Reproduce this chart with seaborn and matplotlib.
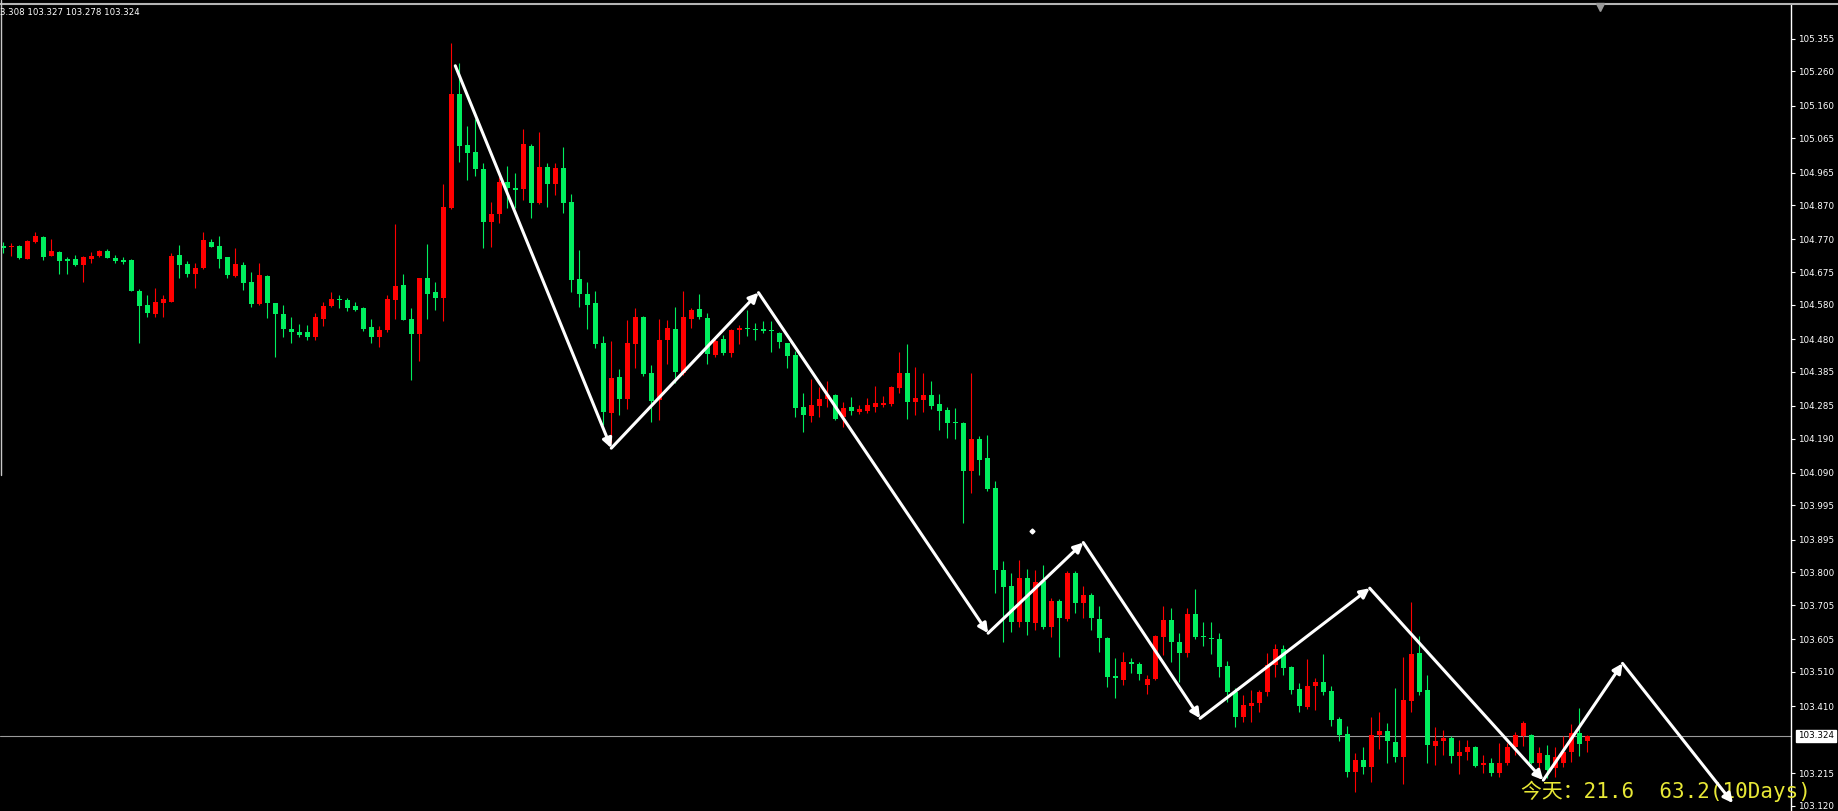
import numpy as np
import pandas as pd
import seaborn as sns
import matplotlib
matplotlib.use('Agg')
import matplotlib.pyplot as plt
import matplotlib.transforms as mtransforms
from matplotlib.lines import Line2D

# OHLC values (one candle per bar)
opens = [
    104.751, 104.748, 104.751, 104.713, 104.762, 104.778, 104.723, 104.732, 104.714, 104.714,
    104.696, 104.713, 104.722, 104.737, 104.717, 104.710, 104.710, 104.621, 104.579, 104.553,
    104.586, 104.589, 104.725, 104.699, 104.670, 104.686, 104.764, 104.751, 104.718, 104.664,
    104.696, 104.645, 104.582, 104.664, 104.584, 104.553, 104.509, 104.500, 104.499, 104.485,
    104.538, 104.576, 104.597, 104.594, 104.576, 104.571, 104.514, 104.485, 104.506, 104.594,
    104.638, 104.538, 104.495, 104.657, 104.618, 104.599, 104.863, 105.194, 105.045, 105.024,
    104.975, 104.822, 104.844, 104.937, 104.919, 104.916, 105.043, 104.876, 104.982, 104.932,
    104.979, 104.880, 104.654, 104.611, 104.584, 104.468, 104.265, 104.369, 104.304, 104.466,
    104.545, 104.380, 104.302, 104.477, 104.509, 104.382, 104.538, 104.567, 104.542, 104.433,
    104.479, 104.438, 104.506, 104.511, 104.509, 104.508, 104.506, 104.497, 104.468, 104.434,
    104.281, 104.256, 104.285, 104.304, 104.317, 104.254, 104.281, 104.268, 104.271, 104.281,
    104.288, 104.291, 104.337, 104.382, 104.297, 104.302, 104.317, 104.291, 104.273, 104.237,
    104.236, 104.096, 104.189, 104.133, 104.045, 103.807, 103.760, 103.656, 103.783, 103.654,
    103.776, 103.642, 103.718, 103.663, 103.797, 103.710, 103.734, 103.663, 103.608, 103.498,
    103.486, 103.540, 103.533, 103.472, 103.489, 103.611, 103.661, 103.598, 103.566, 103.679,
    103.615, 103.608, 103.605, 103.527, 103.452, 103.380, 103.411, 103.420, 103.452, 103.530,
    103.576, 103.524, 103.459, 103.409, 103.469, 103.481, 103.455, 103.372, 103.329, 103.219,
    103.255, 103.234, 103.326, 103.338, 103.307, 103.263, 103.426, 103.566, 103.457, 103.294,
    103.310, 103.317, 103.265, 103.278, 103.292, 103.239, 103.244, 103.216, 103.244, 103.292,
    103.323, 103.326, 103.244, 103.268, 103.229, 103.246, 103.278, 103.331, 103.308,
]
highs = [
    104.763, 104.761, 104.754, 104.769, 104.793, 104.780, 104.772, 104.737, 104.720, 104.725,
    104.722, 104.733, 104.740, 104.742, 104.725, 104.718, 104.712, 104.625, 104.608, 104.630,
    104.608, 104.730, 104.754, 104.708, 104.702, 104.793, 104.771, 104.780, 104.720, 104.744,
    104.705, 104.676, 104.701, 104.666, 104.586, 104.579, 104.545, 104.524, 104.521, 104.557,
    104.589, 104.616, 104.608, 104.599, 104.589, 104.574, 104.538, 104.518, 104.608, 104.815,
    104.670, 104.570, 104.659, 104.757, 104.647, 104.932, 105.342, 105.285, 105.101, 105.120,
    104.992, 104.880, 104.953, 104.984, 104.963, 105.091, 105.048, 105.084, 104.994, 104.992,
    105.039, 104.903, 104.740, 104.647, 104.621, 104.489, 104.474, 104.392, 104.536, 104.570,
    104.547, 104.404, 104.538, 104.536, 104.574, 104.621, 104.570, 104.611, 104.555, 104.479,
    104.492, 104.508, 104.521, 104.565, 104.528, 104.531, 104.531, 104.501, 104.469, 104.446,
    104.322, 104.363, 104.341, 104.359, 104.320, 104.297, 104.310, 104.288, 104.307, 104.343,
    104.314, 104.343, 104.443, 104.466, 104.398, 104.380, 104.359, 104.320, 104.281, 104.278,
    104.239, 104.382, 104.198, 104.200, 104.067, 103.834, 103.799, 103.836, 103.809, 103.807,
    103.822, 103.725, 103.722, 103.805, 103.805, 103.760, 103.739, 103.702, 103.611, 103.550,
    103.569, 103.550, 103.540, 103.501, 103.618, 103.702, 103.695, 103.624, 103.695, 103.751,
    103.656, 103.656, 103.624, 103.543, 103.462, 103.443, 103.457, 103.457, 103.566, 103.591,
    103.588, 103.527, 103.479, 103.547, 103.491, 103.562, 103.469, 103.380, 103.352, 103.275,
    103.292, 103.380, 103.394, 103.362, 103.462, 103.553, 103.715, 103.615, 103.501, 103.350,
    103.341, 103.323, 103.312, 103.312, 103.294, 103.268, 103.258, 103.304, 103.304, 103.336,
    103.368, 103.329, 103.292, 103.297, 103.292, 103.323, 103.358, 103.404, 103.327,
]
lows = [
    104.731, 104.722, 104.713, 104.712, 104.759, 104.710, 104.722, 104.670, 104.670, 104.693,
    104.647, 104.702, 104.720, 104.715, 104.702, 104.699, 104.619, 104.468, 104.544, 104.543,
    104.545, 104.589, 104.658, 104.661, 104.629, 104.684, 104.747, 104.687, 104.658, 104.662,
    104.623, 104.573, 104.580, 104.540, 104.427, 104.485, 104.469, 104.487, 104.477, 104.477,
    104.518, 104.573, 104.570, 104.563, 104.563, 104.504, 104.469, 104.458, 104.499, 104.538,
    104.534, 104.361, 104.417, 104.538, 104.565, 104.531, 104.859, 104.997, 104.943, 104.955,
    104.745, 104.749, 104.817, 104.861, 104.861, 104.885, 104.832, 104.873, 104.864, 104.900,
    104.846, 104.617, 104.574, 104.508, 104.453, 104.230, 104.176, 104.259, 104.275, 104.395,
    104.372, 104.239, 104.244, 104.407, 104.351, 104.375, 104.511, 104.538, 104.407, 104.429,
    104.433, 104.429, 104.466, 104.489, 104.477, 104.498, 104.443, 104.453, 104.395, 104.252,
    104.210, 104.239, 104.254, 104.281, 104.244, 104.223, 104.259, 104.262, 104.265, 104.268,
    104.283, 104.285, 104.324, 104.246, 104.259, 104.268, 104.275, 104.215, 104.191, 104.188,
    103.945, 104.031, 104.084, 104.038, 103.739, 103.598, 103.627, 103.642, 103.618, 103.632,
    103.634, 103.611, 103.554, 103.659, 103.683, 103.666, 103.632, 103.569, 103.467, 103.433,
    103.472, 103.506, 103.486, 103.446, 103.486, 103.559, 103.540, 103.481, 103.553, 103.605,
    103.586, 103.562, 103.496, 103.423, 103.349, 103.365, 103.365, 103.394, 103.440, 103.496,
    103.501, 103.446, 103.394, 103.401, 103.399, 103.443, 103.352, 103.310, 103.205, 103.161,
    103.213, 103.190, 103.287, 103.246, 103.248, 103.183, 103.394, 103.443, 103.244, 103.239,
    103.268, 103.244, 103.213, 103.253, 103.232, 103.215, 103.207, 103.205, 103.239, 103.268,
    103.294, 103.242, 103.200, 103.200, 103.205, 103.232, 103.248, 103.265, 103.278,
]
closes = [
    104.745, 104.752, 104.716, 104.766, 104.781, 104.718, 104.735, 104.708, 104.708, 104.696,
    104.720, 104.723, 104.737, 104.717, 104.708, 104.705, 104.621, 104.577, 104.557, 104.587,
    104.596, 104.723, 104.696, 104.670, 104.686, 104.767, 104.749, 104.713, 104.667, 104.699,
    104.644, 104.582, 104.667, 104.586, 104.553, 104.509, 104.499, 104.492, 104.485, 104.545,
    104.576, 104.597, 104.594, 104.571, 104.565, 104.509, 104.485, 104.506, 104.597, 104.635,
    104.536, 104.495, 104.657, 104.611, 104.599, 104.864, 105.194, 105.041, 105.023, 104.975,
    104.822, 104.844, 104.937, 104.919, 104.914, 105.048, 104.876, 104.982, 104.932, 104.979,
    104.877, 104.652, 104.611, 104.579, 104.466, 104.268, 104.367, 104.304, 104.469, 104.543,
    104.377, 104.300, 104.477, 104.511, 104.383, 104.545, 104.565, 104.543, 104.436, 104.475,
    104.438, 104.506, 104.513, 104.508, 104.506, 104.504, 104.504, 104.472, 104.431, 104.278,
    104.259, 104.288, 104.305, 104.317, 104.246, 104.278, 104.271, 104.276, 104.288, 104.293,
    104.295, 104.341, 104.382, 104.297, 104.307, 104.317, 104.285, 104.271, 104.236, 104.235,
    104.096, 104.188, 104.128, 104.042, 103.807, 103.757, 103.656, 103.783, 103.656, 103.773,
    103.642, 103.718, 103.666, 103.799, 103.710, 103.734, 103.666, 103.608, 103.496, 103.491,
    103.540, 103.533, 103.504, 103.489, 103.615, 103.661, 103.598, 103.566, 103.679, 103.611,
    103.611, 103.605, 103.525, 103.452, 103.380, 103.414, 103.420, 103.452, 103.530, 103.576,
    103.521, 103.457, 103.411, 103.469, 103.481, 103.452, 103.370, 103.326, 103.219, 103.253,
    103.234, 103.326, 103.338, 103.310, 103.263, 103.428, 103.562, 103.452, 103.297, 103.309,
    103.317, 103.265, 103.278, 103.292, 103.236, 103.246, 103.216, 103.246, 103.292, 103.326,
    103.360, 103.244, 103.275, 103.224, 103.263, 103.278, 103.333, 103.300, 103.324,
]

# hand drawn zigzag (bar index, price)
zig_x = [56.5, 76.0, 94.4, 123.1, 135.0, 149.6, 170.8, 192.5, 202.4, 216.2]
zig_y = [105.276, 104.162, 104.615, 103.623, 103.887, 103.375, 103.754, 103.195, 103.535, 103.128]

tick_values = [105.355, 105.260, 105.160, 105.065, 104.965, 104.870, 104.770, 104.675,
               104.580, 104.480, 104.385, 104.285, 104.190, 104.090, 103.995, 103.895,
               103.800, 103.705, 103.605, 103.510, 103.410, 103.215, 103.120]
tick_labels = ['%.3f' % v for v in tick_values]

last_price = 103.324
header_text = '3.308 103.327 103.278 103.324'
footer_text = '今天：21.6  63.2(10Days)'
dot_x, dot_y = 128.55, 103.921

UP = '#ff0000'
DOWN = '#00ee5e'

sns.set_style('dark', {'axes.facecolor': 'black', 'figure.facecolor': 'black'})
plt.rcParams['font.family'] = ['DejaVu Sans', 'Noto Sans CJK SC']

df = pd.DataFrame({'open': opens, 'high': highs, 'low': lows, 'close': closes})
df['bar'] = np.arange(len(df))
df['color'] = np.where(df['close'] > df['open'], UP, DOWN)
df['body_lo'] = df[['open', 'close']].min(axis=1)
df['body_h'] = (df['close'] - df['open']).abs().clip(lower=0.0025)

fig = plt.figure(figsize=(18.38, 8.11), dpi=100, facecolor='black')
ax = fig.add_axes([0, 0, 1791 / 1838, 1 - 5 / 811])
ax.set_facecolor('black')

# candles
ax.vlines(df['bar'], df['low'], df['high'], colors=df['color'], lw=0.8, zorder=2)
ax.bar(df['bar'], df['body_h'], bottom=df['body_lo'], width=0.64,
       color=df['color'], linewidth=0, zorder=2)

# current price line
ax.axhline(last_price, color='#9a9a9a', lw=0.8, zorder=1)

# zigzag arrows
for i in range(len(zig_x) - 1):
    ax.annotate('', xy=(zig_x[i + 1], zig_y[i + 1]), xytext=(zig_x[i], zig_y[i]),
                arrowprops=dict(arrowstyle='-|>', color='white', lw=2.2,
                                mutation_scale=14, shrinkA=0, shrinkB=0),
                zorder=4)

ax.plot(dot_x, dot_y, marker='D', ms=2.5, color='white', zorder=3)

ax.set_xlim(-0.41, 223.46)
ax.set_ylim(103.105, 105.453)
ax.set_xticks([])
ax.yaxis.tick_right()
ax.set_yticks(tick_values)
ax.set_yticklabels(tick_labels)
ax.tick_params(axis='y', colors='white', labelsize=6.3, length=3, width=0.8, pad=2,
               right=True, left=False)
ax.grid(False)
for s in ['top', 'left', 'bottom']:
    ax.spines[s].set_visible(False)
ax.spines['right'].set_color('white')
ax.spines['right'].set_linewidth(1)

# price box on the axis
trans = mtransforms.blended_transform_factory(ax.transAxes, ax.transData)
ax.text(1.004, last_price, '%.3f' % last_price, transform=trans, ha='left', va='center',
        fontsize=6.3, color='black', clip_on=False,
        bbox=dict(boxstyle='square,pad=0.2', fc='white', ec='white'))

# window frame bits
fig.add_artist(Line2D([0, 1], [1 - 3.5 / 811, 1 - 3.5 / 811], color='#b4b4b4', lw=1.5))
fig.add_artist(Line2D([0.5 / 1838, 0.5 / 1838], [1, 1 - 475 / 811], color='#c8c8c8', lw=1))
fig.add_artist(Line2D([1600 / 1838], [1 - 7 / 811], marker='v', ms=6, color='#9a9a9a', lw=0))

fig.text(0, 1 - 12.5 / 811, header_text, color='white', fontsize=6.2, ha='left', va='center')
ax.text(1521 / 1838, 1 - 791 / 811, footer_text, transform=fig.transFigure, color='#e8e836',
        fontsize=15, family=['DejaVu Sans Mono', 'Noto Sans CJK SC'],
        ha='left', va='center', zorder=3)

fig.savefig('out.png', dpi=100, facecolor='black')
